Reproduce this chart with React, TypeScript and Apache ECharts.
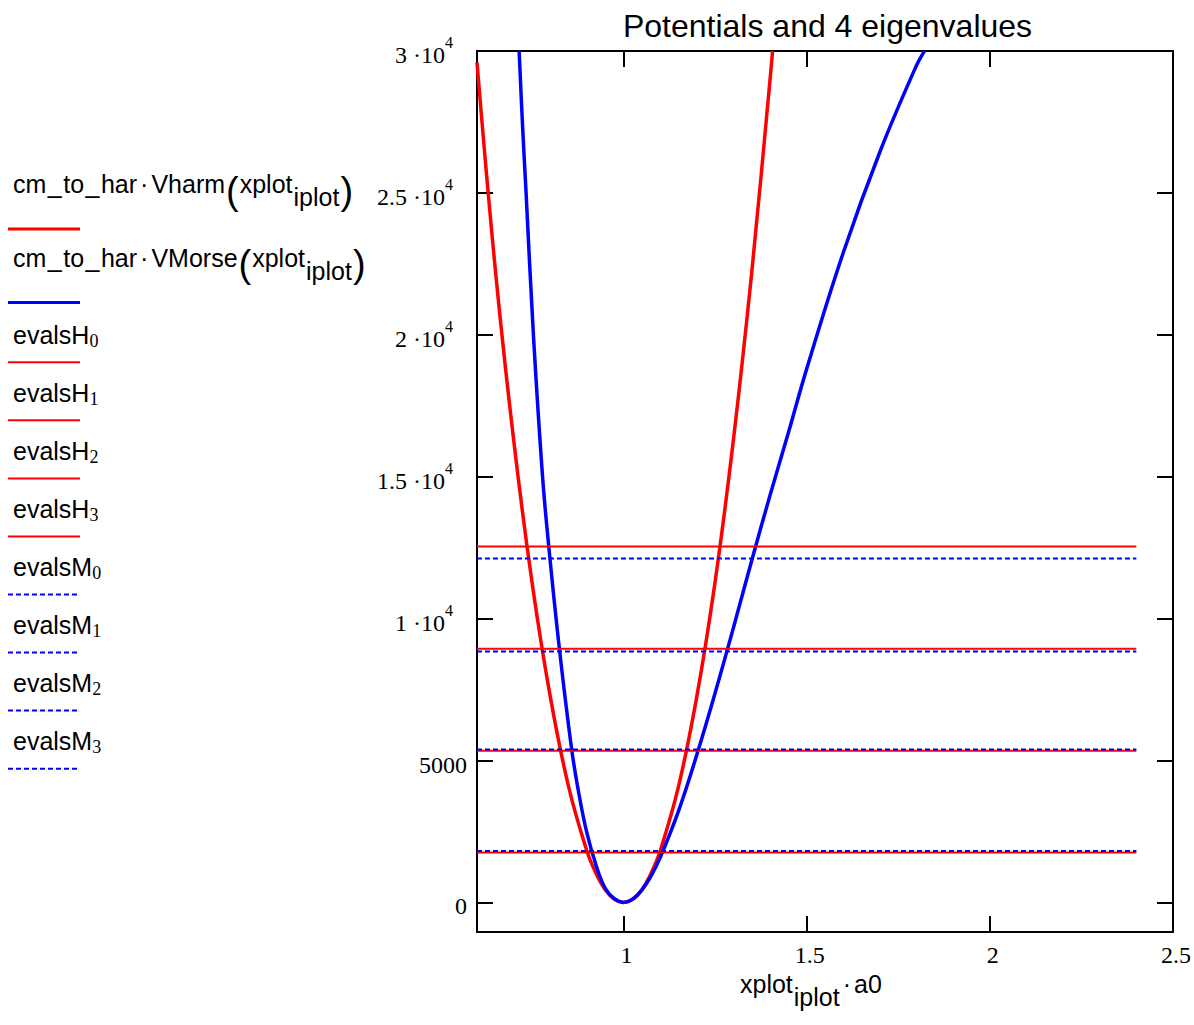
import React, { useEffect, useRef } from "react";
import * as echarts from "echarts";

// ---- data ----
const harmX = [0.6, 0.65, 0.7, 0.75, 0.8, 0.85, 0.9, 0.925, 0.95, 0.975, 1.0, 1.025, 1.05, 1.075, 1.1, 1.15, 1.2, 1.25, 1.3, 1.35, 1.4, 1.407];
const harmV = [29600, 22300, 16300, 11300, 7250, 4080, 1810, 1020, 450, 113, 0, 113, 450, 1020, 1810, 4080, 7250, 11300, 16300, 22200, 29000, 30000];

const morseX = [0.715, 0.725, 0.734, 0.754, 0.779, 0.796, 0.825, 0.859, 0.88, 0.9, 0.925, 0.95, 0.975, 1.0, 1.025, 1.05, 1.075, 1.1, 1.15, 1.2, 1.25, 1.3, 1.35, 1.4, 1.45, 1.5, 1.6, 1.7, 1.8, 1.822];
const morseV = [30000, 27200, 25000, 20000, 15000, 12535, 8933, 5345, 3700, 2450, 1310, 500, 130, 0, 115, 435, 930, 1580, 3220, 5200, 7380, 9680, 12050, 14350, 16550, 18800, 22900, 26450, 29500, 30000];

const levelX = [0.6, 2.4];
const evalsH = [1755, 5345, 8940, 12545];
const evalsM = [1815, 5385, 8845, 12120];

const xTicks = [1, 1.5, 2, 2.5];
const yTicks = [0, 5000, 10000, 15000, 20000, 25000, 30000];
const xMin = 0.6;
const xMax = 2.5;
const yMin = -1042;
const yMax = 30000;

const titleText = "Potentials and 4 eigenvalues";
const legendFuncs = ["Vharm", "VMorse"];

const SANS = "Liberation Sans";
const SERIF = "Liberation Serif";
const RED = "#ff0000";
const BLUE = "#0000ff";

function pairs(xs: number[], vs: number[]) {
  return xs.map((x, i) => [x, vs[i]]);
}

function buildOption() {
  const series: any[] = [
    {
      type: "line",
      name: "cm_to_har·Vharm(xplot_iplot)",
      data: pairs(harmX, harmV),
      smooth: 0.4,
      symbol: "none",
      lineStyle: { color: RED, width: 3.5 },
      itemStyle: { color: RED },
      z: 2,
    },
    {
      type: "line",
      name: "cm_to_har·VMorse(xplot_iplot)",
      data: pairs(morseX, morseV),
      smooth: 0.4,
      symbol: "none",
      lineStyle: { color: BLUE, width: 3.5 },
      itemStyle: { color: BLUE },
      z: 3,
    },
    ...evalsH.map((v, i) => ({
      type: "line",
      name: "evalsH" + i,
      data: levelX.map((x) => [x, v]),
      symbol: "none",
      lineStyle: { color: RED, width: 2 },
      itemStyle: { color: RED },
      z: 4,
    })),
    ...evalsM.map((v, i) => ({
      type: "line",
      name: "evalsM" + i,
      data: levelX.map((x) => [x, v]),
      symbol: "none",
      lineStyle: { color: BLUE, width: 2, type: [5, 3] },
      itemStyle: { color: BLUE },
      z: 5,
    })),
  ];

  const axisLine = { show: true, onZero: false, lineStyle: { color: "#000", width: 2 } };
  const tickStyle = { color: "#000", width: 2 };

  const richMain = { fontFamily: SANS, fontSize: 25, verticalAlign: "top", fill: "#000" };
  const richUnd = { fontFamily: SANS, fontSize: 25, verticalAlign: "top", fill: "#000", padding: [0, 1.5, 0, 1.5] };
  const richDot = { fontFamily: SANS, fontSize: 25, verticalAlign: "top", fill: "#000", padding: [0, 3, 0, 3] };
  const richSub = { fontFamily: SANS, fontSize: 25, verticalAlign: "top", fill: "#000", padding: [13, 0, 0, 1] };
  const richParen = { fontFamily: SANS, fontSize: 38, verticalAlign: "top", fill: "#000", padding: [0, 1, 0, 1] };
  const richDigit = { fontFamily: SERIF, fontSize: 18, verticalAlign: "top", fill: "#000", padding: [9.5, 0, 0, 0] };

  const textBase = {
    fill: "#000",
    align: "left",
    verticalAlign: "top",
    textAlign: "left",
    textVerticalAlign: "top",
  };

  const graphics: any[] = [
    {
      type: "text",
      x: 827.5,
      y: 26,
      style: {
        text: titleText,
        font: `32px "${SANS}"`,
        fill: "#000",
        align: "center",
        verticalAlign: "middle",
        textAlign: "center",
        textVerticalAlign: "middle",
      },
    },
    {
      type: "text",
      x: 740,
      y: 984 - 12.5,
      style: {
        ...textBase,
        text: "{m|xplot}{sub|iplot}{dot|·}{m|a0}",
        rich: { m: richMain, sub: richSub, dot: richDot },
      },
    },
  ];

  const bigCenters = [184, 257.5];
  const bigLines = [229, 302.5];
  legendFuncs.forEach((f, i) => {
    graphics.push({
      type: "text",
      x: 13,
      y: bigCenters[i] - 12.5,
      style: {
        ...textBase,
        text: `{m|cm}{u|_}{m|to}{u|_}{m|har}{dot|·}{m|${f}}{p|(}{m|xplot}{sub|iplot}{p|)}`,
        rich: { m: richMain, u: richUnd, dot: richDot, sub: richSub, p: richParen },
      },
    });
    graphics.push({
      type: "line",
      shape: { x1: 8, y1: bigLines[i], x2: 80, y2: bigLines[i] },
      style: { stroke: i === 0 ? RED : BLUE, lineWidth: 3 },
    });
  });

  const smallNames = [
    ...evalsH.map((_, i) => ({ base: "evalsH", idx: i, color: RED, dash: false })),
    ...evalsM.map((_, i) => ({ base: "evalsM", idx: i, color: BLUE, dash: true })),
  ];
  smallNames.forEach((it, k) => {
    const center = 335 + k * 58.05;
    const lineY = 362.3 + k * 58.05;
    graphics.push({
      type: "text",
      x: 13,
      y: center - 12.5,
      style: {
        ...textBase,
        text: `{m|${it.base}}{d|${it.idx}}`,
        rich: { m: richMain, d: richDigit },
      },
    });
    graphics.push({
      type: "line",
      shape: { x1: 8, y1: lineY, x2: 80, y2: lineY },
      style: it.dash
        ? { stroke: it.color, lineWidth: 2, lineDash: [5, 3] }
        : { stroke: it.color, lineWidth: 2 },
    });
  });

  return {
    animation: false,
    backgroundColor: "#ffffff",
    grid: { left: 477, right: 21, top: 51, bottom: 93, containLabel: false },
    xAxis: [
      {
        type: "value",
        position: "bottom",
        min: xMin,
        max: xMax,
        axisLine,
        splitLine: { show: false },
        axisTick: { show: true, inside: true, length: 16, customValues: xTicks, lineStyle: tickStyle },
        axisLabel: {
          show: true,
          customValues: xTicks,
          fontFamily: SERIF,
          fontSize: 24,
          lineHeight: 24,
          color: "#000",
          margin: 11,
          padding: [0, 0, 0, 6],
          formatter: (v: number) => String(v),
        },
      },
      {
        type: "value",
        position: "top",
        min: xMin,
        max: xMax,
        axisLine,
        splitLine: { show: false },
        axisTick: { show: true, inside: true, length: 16, customValues: xTicks, lineStyle: tickStyle },
        axisLabel: { show: false },
      },
    ],
    yAxis: [
      {
        type: "value",
        position: "left",
        min: yMin,
        max: yMax,
        axisLine,
        splitLine: { show: false },
        axisTick: { show: true, inside: true, length: 16, customValues: yTicks, lineStyle: tickStyle },
        axisLabel: {
          show: true,
          customValues: yTicks,
          margin: 10,
          formatter: (v: number) => {
            if (v < 10000) return `{n|${v}}`;
            return `{b|${v / 10000} ·10}{s|4}{sp|\u00a0}`;
          },
          rich: {
            n: { fontFamily: SERIF, fontSize: 24, lineHeight: 48, verticalAlign: "top", padding: [16, 0, 0, 0], color: "#000" },
            b: { fontFamily: SERIF, fontSize: 24, lineHeight: 48, verticalAlign: "top", padding: [16, 0, 0, 0], color: "#000" },
            s: { fontFamily: SERIF, fontSize: 16, lineHeight: 48, verticalAlign: "top", padding: [7.5, 0, 0, 0], color: "#000" },
            sp: { fontFamily: SERIF, fontSize: 15, lineHeight: 48, width: 14, verticalAlign: "top", color: "#000" },
          },
        },
      },
      {
        type: "value",
        position: "right",
        min: yMin,
        max: yMax,
        axisLine,
        splitLine: { show: false },
        axisTick: { show: true, inside: true, length: 16, customValues: yTicks, lineStyle: tickStyle },
        axisLabel: { show: false },
      },
    ],
    series,
    graphic: graphics,
  };
}

export default function App() {
  const ref = useRef<HTMLDivElement>(null);
  useEffect(() => {
    if (!ref.current) return;
    const chart = echarts.init(ref.current, null, { renderer: "svg" });
    chart.setOption(buildOption() as any);
    return () => {
      chart.dispose();
    };
  }, []);
  return (
    <div
      ref={ref}
      style={{ position: "fixed", left: 0, top: 0, width: 1194, height: 1025, background: "#ffffff" }}
    />
  );
}
